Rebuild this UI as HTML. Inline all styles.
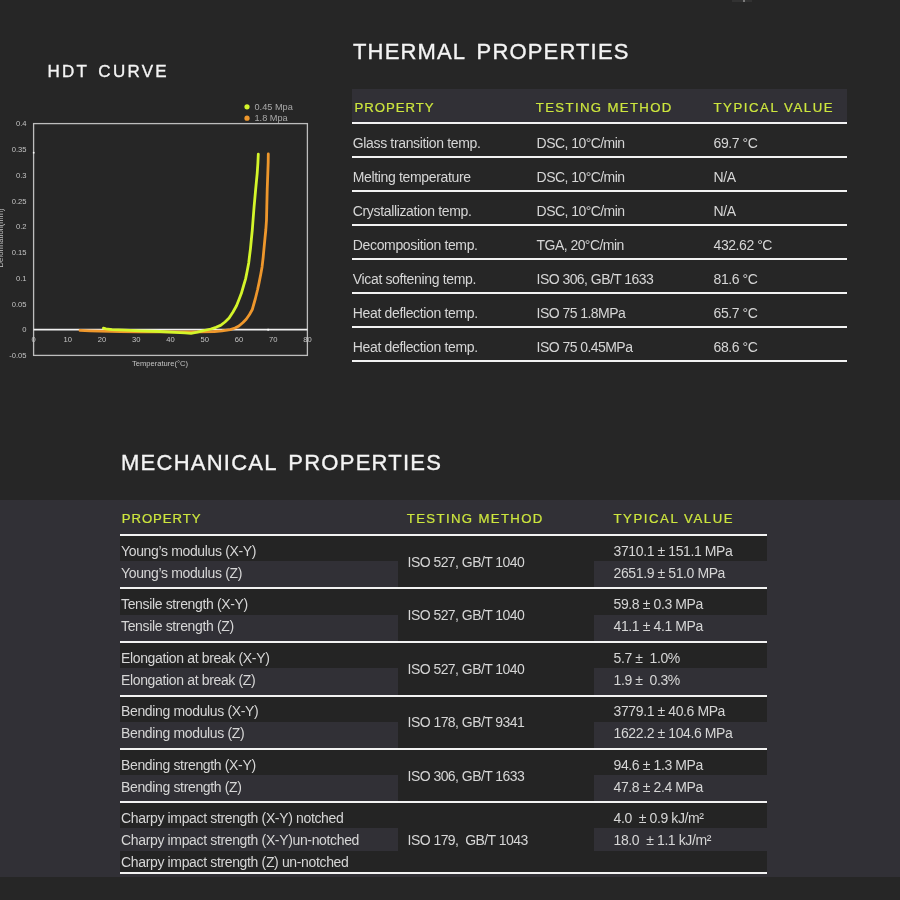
<!DOCTYPE html>
<html lang="en"><head><meta charset="utf-8"><title>Material Properties</title>
<style>
html,body{margin:0;padding:0;}
body{width:900px;height:900px;overflow:hidden;background:#262626;position:relative;font-family:'Liberation Sans', Arial, sans-serif;}
.t{position:absolute;white-space:pre;font-family:'Liberation Sans', Arial, sans-serif;}
.r{position:absolute;}
.h{-webkit-text-stroke:0.2px #cde63e;}
.ti{-webkit-text-stroke:0.35px #f4f4f4;}
.chart{position:absolute;left:0;top:0;}
.chart text{font-family:'Liberation Sans', Arial, sans-serif;}
.ax{font-size:7.6px;fill:#c4c4c4;}
.lg{font-size:9.2px;fill:#a9a9a9;}
</style></head>
<body>
<svg class="chart" width="330" height="380" viewBox="0 0 330 380">
<rect x="33.6" y="123.6" width="273.8" height="231.8" fill="none" stroke="#bdbdbd" stroke-width="1.3"/>
<line x1="33.6" y1="329.6" x2="307.4" y2="329.6" stroke="#f0f0f0" stroke-width="1.6"/>
<rect x="32.9" y="151.9" width="1.6" height="1.6" fill="#ffffff"/>
<rect x="267.3" y="328.8" width="1.8" height="1.8" fill="#ffffff"/>
<text x="26.5" y="126.4" text-anchor="end" class="ax">0.4</text>
<text x="26.5" y="152.2" text-anchor="end" class="ax">0.35</text>
<text x="26.5" y="177.9" text-anchor="end" class="ax">0.3</text>
<text x="26.5" y="203.7" text-anchor="end" class="ax">0.25</text>
<text x="26.5" y="229.4" text-anchor="end" class="ax">0.2</text>
<text x="26.5" y="255.2" text-anchor="end" class="ax">0.15</text>
<text x="26.5" y="280.9" text-anchor="end" class="ax">0.1</text>
<text x="26.5" y="306.7" text-anchor="end" class="ax">0.05</text>
<text x="26.5" y="332.4" text-anchor="end" class="ax">0</text>
<text x="26.5" y="358.2" text-anchor="end" class="ax">-0.05</text>
<text x="33.6" y="341.8" text-anchor="middle" class="ax">0</text>
<text x="67.8" y="341.8" text-anchor="middle" class="ax">10</text>
<text x="102.1" y="341.8" text-anchor="middle" class="ax">20</text>
<text x="136.3" y="341.8" text-anchor="middle" class="ax">30</text>
<text x="170.5" y="341.8" text-anchor="middle" class="ax">40</text>
<text x="204.8" y="341.8" text-anchor="middle" class="ax">50</text>
<text x="239.0" y="341.8" text-anchor="middle" class="ax">60</text>
<text x="273.2" y="341.8" text-anchor="middle" class="ax">70</text>
<text x="307.4" y="341.8" text-anchor="middle" class="ax">80</text>
<text x="160" y="365.5" text-anchor="middle" class="ax">Temperature(°C)</text>
<text transform="translate(3.2,238) rotate(-90)" text-anchor="middle" class="ax">Deformation(mm)</text>
<circle cx="247" cy="106.8" r="2.6" fill="#d4f52a"/>
<circle cx="247" cy="118.2" r="2.6" fill="#ee972c"/>
<text x="254.5" y="109.9" class="lg">0.45 Mpa</text>
<text x="254.5" y="121.2" class="lg">1.8 Mpa</text>
<path d="M80.0,330.4 L90.0,330.8 L100.0,331.2 L120.0,331.6 L140.0,331.8 L160.0,331.8 L180.0,331.9 L200.0,331.9 L214.4,331.5 L222.0,330.8 L230.3,329.6 L235.0,328.0 L238.9,326.0 L243.0,322.5 L246.2,319.2 L249.5,314.5 L252.3,309.5 L255.4,298.5 L257.5,290.0 L259.1,282.6 L260.8,274.0 L262.1,266.7 L263.2,257.0 L264.0,248.3 L265.0,238.0 L265.8,230.0 L266.5,220.0 L266.8,206.7 L267.2,190.0 L267.8,173.3 L268.2,162.0 L268.3,154.0" fill="none" stroke="#ee972c" stroke-width="2.8" stroke-linecap="round" stroke-linejoin="round"/>
<path d="M103.4,328.2 L106.0,328.8 L112.0,329.6 L125.0,330.2 L140.0,330.8 L160.0,331.5 L175.0,332.3 L185.0,332.8 L191.0,333.3 L197.3,332.2 L204.0,330.5 L210.8,329.0 L216.0,327.3 L220.6,325.4 L225.0,322.0 L229.1,318.0 L233.0,312.0 L236.5,305.8 L239.0,299.5 L241.3,293.6 L243.5,286.0 L245.6,278.9 L247.2,271.0 L248.7,263.0 L249.6,255.5 L250.5,248.3 L251.4,239.0 L252.3,230.0 L253.2,218.0 L254.1,206.7 L255.6,190.0 L257.2,173.3 L257.9,163.0 L258.3,154.2" fill="none" stroke="#d4f52a" stroke-width="2.8" stroke-linecap="round" stroke-linejoin="round"/>
</svg>
<div class="r" style="left:732px;top:0px;width:20px;height:2px;background:#323232;"></div>
<div class="r" style="left:742.5px;top:0px;width:2px;height:2px;background:#7a7a7a;"></div>
<div class="r" style="left:0px;top:500px;width:900px;height:377px;background:#313036;"></div>
<div class="t ti" style="left:47.5px;top:61.61px;font-size:17px;line-height:20px;letter-spacing:2.28px;color:#f4f4f4;word-spacing:2.4px;">HDT CURVE</div>
<div class="t ti" style="left:353px;top:38.58px;font-size:22px;line-height:26px;letter-spacing:1.15px;color:#f4f4f4;word-spacing:4px;">THERMAL PROPERTIES</div>
<div class="t ti" style="left:121px;top:450.18px;font-size:22px;line-height:26px;letter-spacing:1.25px;color:#f4f4f4;word-spacing:4px;">MECHANICAL PROPERTIES</div>
<div class="r" style="left:352px;top:89px;width:495px;height:33px;background:#313036;"></div>
<div class="t h" style="left:354.5px;top:99.93px;font-size:13.2px;line-height:16px;letter-spacing:0.95px;color:#cde63e;">PROPERTY</div>
<div class="t h" style="left:535.8px;top:99.93px;font-size:13.2px;line-height:16px;letter-spacing:1.35px;color:#cde63e;">TESTING METHOD</div>
<div class="t h" style="left:713.5px;top:99.93px;font-size:13.2px;line-height:16px;letter-spacing:1.55px;color:#cde63e;">TYPICAL VALUE</div>
<div class="r" style="left:352px;top:122px;width:495px;height:2px;background:#f2f2f2;"></div>
<div class="r" style="left:352px;top:156px;width:495px;height:2px;background:#f2f2f2;"></div>
<div class="r" style="left:352px;top:190px;width:495px;height:2px;background:#f2f2f2;"></div>
<div class="r" style="left:352px;top:224px;width:495px;height:2px;background:#f2f2f2;"></div>
<div class="r" style="left:352px;top:258px;width:495px;height:2px;background:#f2f2f2;"></div>
<div class="r" style="left:352px;top:292px;width:495px;height:2px;background:#f2f2f2;"></div>
<div class="r" style="left:352px;top:326px;width:495px;height:2px;background:#f2f2f2;"></div>
<div class="r" style="left:352px;top:360px;width:495px;height:2px;background:#f2f2f2;"></div>
<div class="t " style="left:352.8px;top:134.65px;font-size:14px;line-height:17px;letter-spacing:-0.35px;color:#d6d6d6;">Glass transition temp.</div>
<div class="t " style="left:536.6px;top:134.65px;font-size:14px;line-height:17px;letter-spacing:-0.55px;color:#d6d6d6;">DSC, 10°C/min</div>
<div class="t " style="left:713.6px;top:134.65px;font-size:14px;line-height:17px;letter-spacing:-0.45px;color:#d6d6d6;">69.7 °C</div>
<div class="t " style="left:352.8px;top:168.65px;font-size:14px;line-height:17px;letter-spacing:-0.35px;color:#d6d6d6;">Melting temperature</div>
<div class="t " style="left:536.6px;top:168.65px;font-size:14px;line-height:17px;letter-spacing:-0.55px;color:#d6d6d6;">DSC, 10°C/min</div>
<div class="t " style="left:713.6px;top:168.65px;font-size:14px;line-height:17px;letter-spacing:-0.45px;color:#d6d6d6;">N/A</div>
<div class="t " style="left:352.8px;top:202.65px;font-size:14px;line-height:17px;letter-spacing:-0.35px;color:#d6d6d6;">Crystallization temp.</div>
<div class="t " style="left:536.6px;top:202.65px;font-size:14px;line-height:17px;letter-spacing:-0.55px;color:#d6d6d6;">DSC, 10°C/min</div>
<div class="t " style="left:713.6px;top:202.65px;font-size:14px;line-height:17px;letter-spacing:-0.45px;color:#d6d6d6;">N/A</div>
<div class="t " style="left:352.8px;top:236.65px;font-size:14px;line-height:17px;letter-spacing:-0.35px;color:#d6d6d6;">Decomposition temp.</div>
<div class="t " style="left:536.6px;top:236.65px;font-size:14px;line-height:17px;letter-spacing:-0.55px;color:#d6d6d6;">TGA, 20°C/min</div>
<div class="t " style="left:713.6px;top:236.65px;font-size:14px;line-height:17px;letter-spacing:-0.45px;color:#d6d6d6;">432.62 °C</div>
<div class="t " style="left:352.8px;top:270.65px;font-size:14px;line-height:17px;letter-spacing:-0.35px;color:#d6d6d6;">Vicat softening temp.</div>
<div class="t " style="left:536.6px;top:270.65px;font-size:14px;line-height:17px;letter-spacing:-0.55px;color:#d6d6d6;">ISO 306, GB/T 1633</div>
<div class="t " style="left:713.6px;top:270.65px;font-size:14px;line-height:17px;letter-spacing:-0.45px;color:#d6d6d6;">81.6 °C</div>
<div class="t " style="left:352.8px;top:304.65px;font-size:14px;line-height:17px;letter-spacing:-0.35px;color:#d6d6d6;">Heat deflection temp.</div>
<div class="t " style="left:536.6px;top:304.65px;font-size:14px;line-height:17px;letter-spacing:-0.55px;color:#d6d6d6;">ISO 75 1.8MPa</div>
<div class="t " style="left:713.6px;top:304.65px;font-size:14px;line-height:17px;letter-spacing:-0.45px;color:#d6d6d6;">65.7 °C</div>
<div class="t " style="left:352.8px;top:338.65px;font-size:14px;line-height:17px;letter-spacing:-0.35px;color:#d6d6d6;">Heat deflection temp.</div>
<div class="t " style="left:536.6px;top:338.65px;font-size:14px;line-height:17px;letter-spacing:-0.55px;color:#d6d6d6;">ISO 75 0.45MPa</div>
<div class="t " style="left:713.6px;top:338.65px;font-size:14px;line-height:17px;letter-spacing:-0.45px;color:#d6d6d6;">68.6 °C</div>
<div class="t h" style="left:121.7px;top:510.93px;font-size:13.2px;line-height:16px;letter-spacing:0.95px;color:#cde63e;">PROPERTY</div>
<div class="t h" style="left:406.8px;top:510.93px;font-size:13.2px;line-height:16px;letter-spacing:1.35px;color:#cde63e;">TESTING METHOD</div>
<div class="t h" style="left:613.5px;top:510.93px;font-size:13.2px;line-height:16px;letter-spacing:1.55px;color:#cde63e;">TYPICAL VALUE</div>
<div class="r" style="left:120px;top:536px;width:647px;height:25.299999999999955px;background:#242424;"></div>
<div class="r" style="left:398px;top:536px;width:196px;height:51.299999999999955px;background:#242424;"></div>
<div class="t " style="left:121.0px;top:542.65px;font-size:14px;line-height:17px;letter-spacing:-0.35px;color:#d6d6d6;">Young’s modulus (X-Y)</div>
<div class="t " style="left:613.6px;top:542.65px;font-size:14px;line-height:17px;letter-spacing:-0.4px;color:#d6d6d6;">3710.1 ± 151.1 MPa</div>
<div class="t " style="left:121.0px;top:564.65px;font-size:14px;line-height:17px;letter-spacing:-0.35px;color:#d6d6d6;">Young’s modulus (Z)</div>
<div class="t " style="left:613.6px;top:564.65px;font-size:14px;line-height:17px;letter-spacing:-0.4px;color:#d6d6d6;">2651.9 ± 51.0 MPa</div>
<div class="t " style="left:407.6px;top:553.65px;font-size:14px;line-height:17px;letter-spacing:-0.55px;color:#d6d6d6;">ISO 527, GB/T 1040</div>
<div class="r" style="left:120px;top:589.3px;width:647px;height:25.299999999999955px;background:#242424;"></div>
<div class="r" style="left:398px;top:589.3px;width:196px;height:51.700000000000045px;background:#242424;"></div>
<div class="t " style="left:121.0px;top:595.95px;font-size:14px;line-height:17px;letter-spacing:-0.35px;color:#d6d6d6;">Tensile strength (X-Y)</div>
<div class="t " style="left:613.6px;top:595.95px;font-size:14px;line-height:17px;letter-spacing:-0.4px;color:#d6d6d6;">59.8 ± 0.3 MPa</div>
<div class="t " style="left:121.0px;top:617.95px;font-size:14px;line-height:17px;letter-spacing:-0.35px;color:#d6d6d6;">Tensile strength (Z)</div>
<div class="t " style="left:613.6px;top:617.95px;font-size:14px;line-height:17px;letter-spacing:-0.4px;color:#d6d6d6;">41.1 ± 4.1 MPa</div>
<div class="t " style="left:407.6px;top:606.95px;font-size:14px;line-height:17px;letter-spacing:-0.55px;color:#d6d6d6;">ISO 527, GB/T 1040</div>
<div class="r" style="left:120px;top:643px;width:647px;height:25.299999999999955px;background:#242424;"></div>
<div class="r" style="left:398px;top:643px;width:196px;height:51.5px;background:#242424;"></div>
<div class="t " style="left:121.0px;top:649.65px;font-size:14px;line-height:17px;letter-spacing:-0.35px;color:#d6d6d6;">Elongation at break (X-Y)</div>
<div class="t " style="left:613.6px;top:649.65px;font-size:14px;line-height:17px;letter-spacing:-0.4px;color:#d6d6d6;">5.7 ±  1.0%</div>
<div class="t " style="left:121.0px;top:671.65px;font-size:14px;line-height:17px;letter-spacing:-0.35px;color:#d6d6d6;">Elongation at break (Z)</div>
<div class="t " style="left:613.6px;top:671.65px;font-size:14px;line-height:17px;letter-spacing:-0.4px;color:#d6d6d6;">1.9 ±  0.3%</div>
<div class="t " style="left:407.6px;top:660.65px;font-size:14px;line-height:17px;letter-spacing:-0.55px;color:#d6d6d6;">ISO 527, GB/T 1040</div>
<div class="r" style="left:120px;top:696.5px;width:647px;height:25.299999999999955px;background:#242424;"></div>
<div class="r" style="left:398px;top:696.5px;width:196px;height:51.5px;background:#242424;"></div>
<div class="t " style="left:121.0px;top:703.15px;font-size:14px;line-height:17px;letter-spacing:-0.35px;color:#d6d6d6;">Bending modulus (X-Y)</div>
<div class="t " style="left:613.6px;top:703.15px;font-size:14px;line-height:17px;letter-spacing:-0.4px;color:#d6d6d6;">3779.1 ± 40.6 MPa</div>
<div class="t " style="left:121.0px;top:725.15px;font-size:14px;line-height:17px;letter-spacing:-0.35px;color:#d6d6d6;">Bending modulus (Z)</div>
<div class="t " style="left:613.6px;top:725.15px;font-size:14px;line-height:17px;letter-spacing:-0.4px;color:#d6d6d6;">1622.2 ± 104.6 MPa</div>
<div class="t " style="left:407.6px;top:714.15px;font-size:14px;line-height:17px;letter-spacing:-0.55px;color:#d6d6d6;">ISO 178, GB/T 9341</div>
<div class="r" style="left:120px;top:750px;width:647px;height:25.299999999999955px;background:#242424;"></div>
<div class="r" style="left:398px;top:750px;width:196px;height:51.299999999999955px;background:#242424;"></div>
<div class="t " style="left:121.0px;top:756.65px;font-size:14px;line-height:17px;letter-spacing:-0.35px;color:#d6d6d6;">Bending strength (X-Y)</div>
<div class="t " style="left:613.6px;top:756.65px;font-size:14px;line-height:17px;letter-spacing:-0.4px;color:#d6d6d6;">94.6 ± 1.3 MPa</div>
<div class="t " style="left:121.0px;top:778.65px;font-size:14px;line-height:17px;letter-spacing:-0.35px;color:#d6d6d6;">Bending strength (Z)</div>
<div class="t " style="left:613.6px;top:778.65px;font-size:14px;line-height:17px;letter-spacing:-0.4px;color:#d6d6d6;">47.8 ± 2.4 MPa</div>
<div class="t " style="left:407.6px;top:767.65px;font-size:14px;line-height:17px;letter-spacing:-0.55px;color:#d6d6d6;">ISO 306, GB/T 1633</div>
<div class="r" style="left:120px;top:803.3px;width:647px;height:24.5px;background:#242424;"></div>
<div class="r" style="left:120px;top:851.0px;width:647px;height:20.600000000000023px;background:#242424;"></div>
<div class="r" style="left:398px;top:803.3px;width:196px;height:68.30000000000007px;background:#242424;"></div>
<div class="t " style="left:121.0px;top:809.85px;font-size:14px;line-height:17px;letter-spacing:-0.35px;color:#d6d6d6;">Charpy impact strength (X-Y) notched</div>
<div class="t " style="left:613.6px;top:809.85px;font-size:14px;line-height:17px;letter-spacing:-0.4px;color:#d6d6d6;">4.0  ± 0.9 kJ/m²</div>
<div class="t " style="left:121.0px;top:831.75px;font-size:14px;line-height:17px;letter-spacing:-0.35px;color:#d6d6d6;">Charpy impact strength (X-Y)un-notched</div>
<div class="t " style="left:613.6px;top:831.75px;font-size:14px;line-height:17px;letter-spacing:-0.4px;color:#d6d6d6;">18.0  ± 1.1 kJ/m²</div>
<div class="t " style="left:121.0px;top:854.15px;font-size:14px;line-height:17px;letter-spacing:-0.35px;color:#d6d6d6;">Charpy impact strength (Z) un-notched</div>
<div class="t " style="left:407.6px;top:831.95px;font-size:14px;line-height:17px;letter-spacing:-0.55px;color:#d6d6d6;">ISO 179,  GB/T 1043</div>
<div class="r" style="left:120px;top:534px;width:647px;height:2px;background:#f2f2f2;"></div>
<div class="r" style="left:120px;top:587.3px;width:647px;height:2px;background:#f2f2f2;"></div>
<div class="r" style="left:120px;top:641px;width:647px;height:2px;background:#f2f2f2;"></div>
<div class="r" style="left:120px;top:694.5px;width:647px;height:2px;background:#f2f2f2;"></div>
<div class="r" style="left:120px;top:748px;width:647px;height:2px;background:#f2f2f2;"></div>
<div class="r" style="left:120px;top:801.3px;width:647px;height:2px;background:#f2f2f2;"></div>
<div class="r" style="left:120px;top:871.6px;width:647px;height:2px;background:#f2f2f2;"></div>
</body></html>
